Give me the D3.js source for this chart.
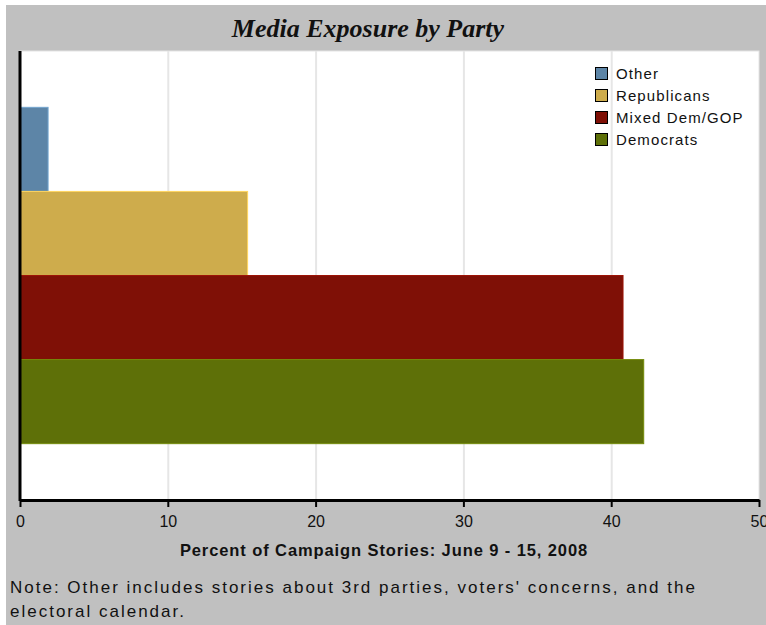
<!DOCTYPE html>
<html>
<head>
<meta charset="utf-8">
<script src="https://cdn.jsdelivr.net/npm/d3@7"></script>
<style>
    html, body { margin: 0; padding: 0; background: #ffffff; }
    svg { display: block; }
</style>
</head>
<body>
<div id="chart"></div>
<script>
/* Data -------------------------------------------------------------------- */

const categories = ["Other", "Republicans", "Mixed Dem/GOP", "Democrats"];
const values = [1.9, 15.4, 40.8, 42.2];
const colors = ["#5d85a7", "#ceac4c", "#7f1006", "#5e7008"];
const xTicks = [0, 10, 20, 30, 40, 50];

const titleText = "Media Exposure by Party";
const xTitleText = "Percent of Campaign Stories: June 9 - 15, 2008";
const noteLines = [
    "Note: Other includes stories about 3rd parties, voters' concerns, and the",
    "electoral calendar."
];

/* Draw graphic ------------------------------------------------------------ */

function drawGraphic() {

    const width = 766;
    const height = 625;
    const plot = {left: 20, right: 759, top: 51, bottom: 500};
    const sans = "'Liberation Sans', Arial, sans-serif";

    const data = categories.map((c, i) => ({key: c, value: values[i], color: colors[i]}));

    const valueScale = d3.scaleLinear()
        .domain([0, 50])
        .range([plot.left, plot.right]);

    const keyScale = d3.scaleBand()
        .domain(categories)
        .range([plot.top, plot.bottom])
        .paddingInner(0)
        .paddingOuter(0.67);

    const vis = d3.select("#chart")
        .append("svg")
        .attr("width", width)
        .attr("height", height);

    // Grey panel
    vis.append("rect")
        .attr("x", 6)
        .attr("y", 5)
        .attr("width", width - 6)
        .attr("height", height - 5)
        .attr("fill", "#c0c0c0");

    // Title
    vis.append("text")
        .attr("x", 368)
        .attr("y", 37)
        .attr("text-anchor", "middle")
        .style("font-family", "'Liberation Serif', 'Times New Roman', serif")
        .style("font-weight", "bold")
        .style("font-style", "italic")
        .style("font-size", "26px")
        .style("fill", "#111")
        .text(titleText);

    // Plot background
    vis.append("rect")
        .attr("x", plot.left)
        .attr("y", plot.top)
        .attr("width", plot.right - plot.left)
        .attr("height", plot.bottom - plot.top)
        .attr("fill", "#ffffff")
        .attr("stroke", "#e4e4e4")
        .attr("stroke-width", 1);

    // Gridlines
    vis.append("g")
        .attr("class", "grid")
        .attr("transform", `translate(0,${plot.bottom})`)
        .call(d3.axisBottom(valueScale)
            .tickValues(xTicks.slice(1, -1))
            .tickSize(-(plot.bottom - plot.top))
            .tickFormat(""))
        .call(g => g.select(".domain").remove())
        .call(g => g.selectAll("line")
            .attr("stroke", "#e6e6e6")
            .attr("stroke-width", 2));

    // Bars
    vis.selectAll(".bar")
        .data(data)
        .enter()
        .append("rect")
        .attr("class", "bar")
        .attr("x", valueScale(0))
        .attr("y", d => keyScale(d.key))
        .attr("width", d => valueScale(d.value) - valueScale(0))
        .attr("height", keyScale.bandwidth())
        .attr("fill", d => d.color)
        .attr("stroke", d => d3.color(d.color).brighter(0.6))
        .attr("stroke-width", 1);

    // Y axis line
    vis.append("line")
        .attr("x1", plot.left)
        .attr("x2", plot.left)
        .attr("y1", plot.top)
        .attr("y2", plot.bottom + 1)
        .attr("stroke", "#000")
        .attr("stroke-width", 3);

    // X axis
    const xAxis = vis.append("g")
        .attr("class", "xaxis")
        .attr("transform", `translate(0,${plot.bottom})`)
        .call(d3.axisBottom(valueScale)
            .tickValues(xTicks)
            .tickSize(7)
            .tickSizeOuter(0)
            .tickPadding(9));

    xAxis.select(".domain")
        .attr("stroke", "#000")
        .attr("stroke-width", 3);

    xAxis.selectAll(".tick line")
        .attr("stroke", "#000")
        .attr("stroke-width", 2);

    xAxis.selectAll(".tick text")
        .style("font-family", sans)
        .style("font-size", "16px")
        .style("fill", "#111");

    // X axis title
    vis.append("text")
        .attr("x", 384)
        .attr("y", 556)
        .attr("text-anchor", "middle")
        .style("font-family", sans)
        .style("font-weight", "bold")
        .style("font-size", "16.5px")
        .style("letter-spacing", "0.9px")
        .style("fill", "#111")
        .text(xTitleText);

    // Note
    vis.selectAll(".note")
        .data(noteLines)
        .enter()
        .append("text")
        .attr("class", "note")
        .attr("x", 10)
        .attr("y", (d, i) => 593 + i * 24)
        .style("font-family", sans)
        .style("font-size", "17px")
        .style("letter-spacing", "2px")
        .style("fill", "#111")
        .text(d => d);

    // Legend
    const legend = vis.append("g")
        .attr("transform", "translate(595,67)");

    const item = legend.selectAll(".legend-item")
        .data(data)
        .enter()
        .append("g")
        .attr("class", "legend-item")
        .attr("transform", (d, i) => `translate(0,${i * 22})`);

    item.append("rect")
        .attr("x", 0.5)
        .attr("y", 0.5)
        .attr("width", 12)
        .attr("height", 12)
        .attr("fill", d => d.color)
        .attr("stroke", "#000")
        .attr("stroke-width", 1);

    item.append("text")
        .attr("x", 21)
        .attr("y", 12)
        .style("font-family", sans)
        .style("font-size", "15px")
        .style("letter-spacing", "1.1px")
        .style("fill", "#111")
        .text(d => d.key);
}

drawGraphic();
</script>
</body>
</html>
